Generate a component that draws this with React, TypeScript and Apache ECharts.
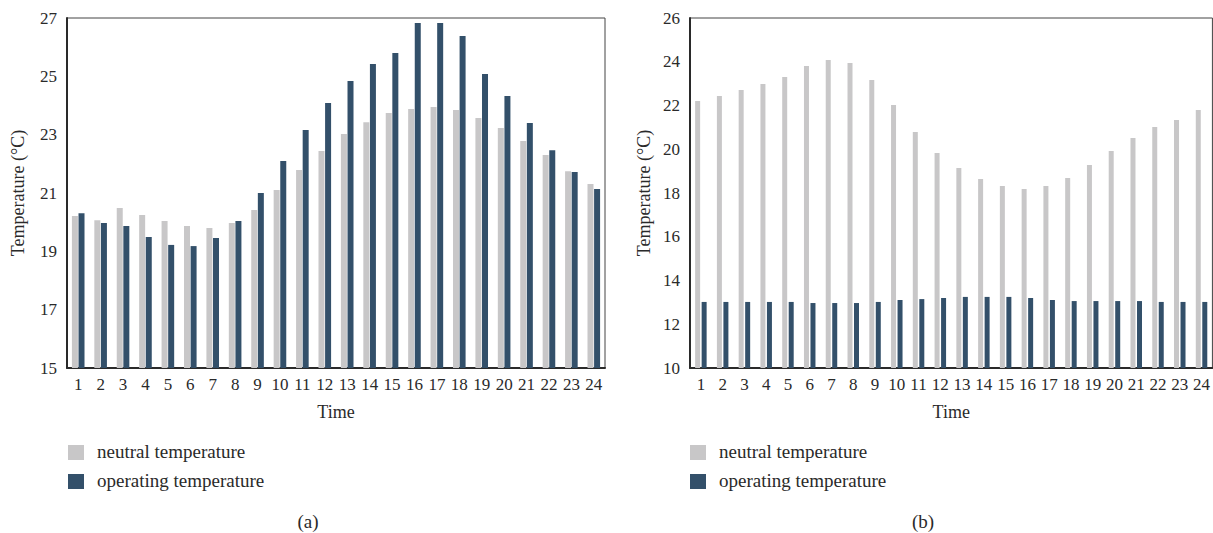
import React, { useEffect, useRef } from "react";
import * as echarts from "echarts";

const hours = ["1","2","3","4","5","6","7","8","9","10","11","12","13","14","15","16","17","18","19","20","21","22","23","24"];
const seriesNames = ["neutral temperature", "operating temperature"];

const neutralA = [20.21, 20.07, 20.49, 20.25, 20.04, 19.87, 19.8, 19.97, 20.42, 21.1, 21.79, 22.44, 23.02, 23.43, 23.74, 23.88, 23.95, 23.85, 23.57, 23.23, 22.78, 22.3, 21.75, 21.31];
const operatingA = [20.31, 19.97, 19.87, 19.49, 19.22, 19.18, 19.46, 20.04, 21.0, 22.1, 23.16, 24.09, 24.84, 25.42, 25.8, 26.83, 26.83, 26.38, 25.08, 24.33, 23.4, 22.47, 21.72, 21.14];
const neutralB = [22.21, 22.43, 22.71, 22.98, 23.3, 23.81, 24.08, 23.94, 23.17, 22.02, 20.79, 19.83, 19.14, 18.64, 18.32, 18.18, 18.32, 18.69, 19.28, 19.92, 20.51, 21.02, 21.34, 21.79];
const operatingB = [13.02, 13.02, 13.02, 13.02, 13.02, 12.97, 12.97, 12.97, 13.02, 13.11, 13.15, 13.2, 13.25, 13.25, 13.25, 13.2, 13.11, 13.06, 13.06, 13.06, 13.06, 13.02, 13.02, 13.02];

const yRangeA = { min: 15, max: 27, interval: 2 };
const yRangeB = { min: 10, max: 26, interval: 2 };
const panelLabels = ["(a)", "(b)"];

const FONT = "'Liberation Serif', 'Times New Roman', serif";
const GRAY = "#c8c7c8";
const NAVY = "#33506a";
const TEXT = "#2a2a2a";

export default function App() {
  const ref = useRef<HTMLDivElement>(null);
  useEffect(() => {
    if (!ref.current) return;
    const chart = echarts.init(ref.current, undefined, { renderer: "svg" });

    const xAxisBase = (gridIndex: number) => ({
      type: "category",
      gridIndex,
      data: hours,
      name: "Time",
      nameLocation: "middle",
      nameGap: 35,
      nameTextStyle: { fontFamily: FONT, fontSize: 18, color: TEXT },
      axisLine: { lineStyle: { color: "#2a2a2a", width: 2 } },
      axisTick: { show: false },
      axisLabel: { interval: 0, margin: 8, fontFamily: FONT, fontSize: 17, color: TEXT },
      splitLine: { show: false },
    });
    const yAxisBase = (gridIndex: number, r: { min: number; max: number; interval: number }, gap: number) => ({
      type: "value",
      gridIndex,
      min: r.min,
      max: r.max,
      interval: r.interval,
      name: "Temperature (°C)",
      nameLocation: "middle",
      nameGap: gap,
      nameTextStyle: { fontFamily: FONT, fontSize: 18, color: TEXT },
      axisLine: { show: true, lineStyle: { color: "#2a2a2a", width: 2 } },
      axisTick: { show: false },
      axisLabel: { margin: 10, fontFamily: FONT, fontSize: 17, color: TEXT },
      splitLine: { show: false },
    });

    const legendGraphic = (x: number, label: string, cx: number) => [
      { type: "rect", left: x, top: 445, shape: { width: 16, height: 15 }, style: { fill: GRAY } },
      { type: "text", left: x + 29, top: 442, style: { text: seriesNames[0], fontFamily: FONT, fontSize: 19, fill: TEXT } },
      { type: "rect", left: x, top: 474, shape: { width: 16, height: 15 }, style: { fill: NAVY } },
      { type: "text", left: x + 29, top: 471, style: { text: seriesNames[1], fontFamily: FONT, fontSize: 19, fill: TEXT } },
      { type: "text", x: cx, y: 521, style: { text: label, fontFamily: FONT, fontSize: 19, fill: TEXT, align: "center", verticalAlign: "middle" } },
    ];

    chart.setOption({
      animation: false,
      backgroundColor: "#ffffff",
      grid: [
        { left: 67, top: 18, width: 538, height: 350, show: true, borderColor: "#444", borderWidth: 1, containLabel: false },
        { left: 690, top: 18, width: 524, height: 350, show: true, borderColor: "#444", borderWidth: 1, containLabel: false },
      ],
      xAxis: [xAxisBase(0), xAxisBase(1)],
      yAxis: [yAxisBase(0, yRangeA, 40), yAxisBase(1, yRangeB, 37)],
      series: [
        { name: seriesNames[0], type: "bar", xAxisIndex: 0, yAxisIndex: 0, data: neutralA, barWidth: 6, barGap: "10%", itemStyle: { color: GRAY } },
        { name: seriesNames[1], type: "bar", xAxisIndex: 0, yAxisIndex: 0, data: operatingA, barWidth: 6, barGap: "10%", itemStyle: { color: NAVY } },
        { name: seriesNames[0], type: "bar", xAxisIndex: 1, yAxisIndex: 1, data: neutralB, barWidth: 5, barGap: "30%", itemStyle: { color: GRAY } },
        { name: seriesNames[1], type: "bar", xAxisIndex: 1, yAxisIndex: 1, data: operatingB, barWidth: 5, barGap: "30%", itemStyle: { color: NAVY } },
      ],
      graphic: [...legendGraphic(68, panelLabels[0], 308), ...legendGraphic(690, panelLabels[1], 923)],
    });
    return () => chart.dispose();
  }, []);

  return (
    <div
      ref={ref}
      style={{ position: "absolute", left: 0, top: 0, width: 1213, height: 533, background: "#fff" }}
    />
  );
}
